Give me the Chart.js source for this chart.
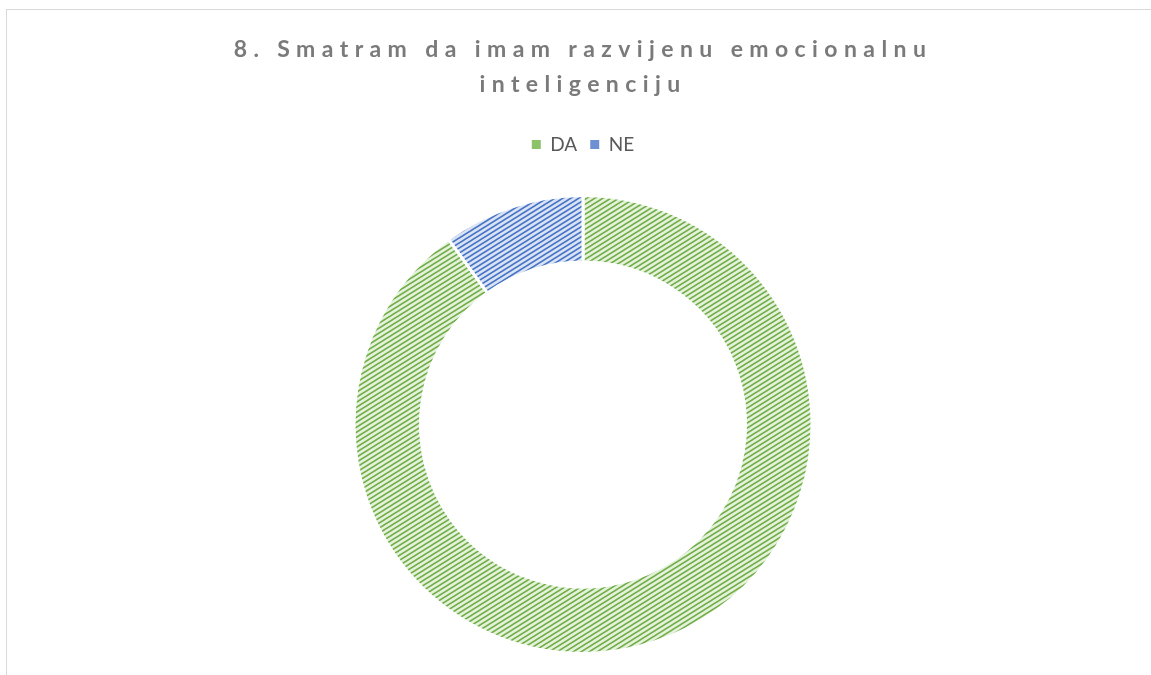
<!DOCTYPE html>
<html>
<head>
<meta charset="utf-8">
<script src="https://cdn.jsdelivr.net/npm/chart.js@4.4.1/dist/chart.umd.min.js"></script>
<style>
    html, body { margin: 0; padding: 0; background: #fff; overflow: hidden; }
    #frame {
        position: absolute; left: 6px; top: 9px; width: 1200px; height: 720px;
        border-left: 1.5px solid #d9d9d9; border-top: 1.5px solid #d9d9d9;
    }
    #wrap { position: absolute; left: 0; top: 0; width: 1151px; height: 675px; }
</style>
</head>
<body>
<div id="frame"></div>
<div id="wrap"><canvas id="donutChart"></canvas></div>
<script>
// Chart data
const titleLines = ['8. Smatram da imam razvijenu emocionalnu', 'inteligenciju'];
const categories = ['DA', 'NE'];
const values = [90, 10];
const lineColors = ['#70AD47', '#4472C4'];
const bgColors = ['#e4f1db', '#d9e3f4'];
const legendColors = ['#8cc36a', '#6e90d2'];

// Diagonal stripe pattern, like the Excel "upward diagonal" fill
function makePattern(line, bg) {
    const tile = document.createElement('canvas');
    tile.width = 8;
    tile.height = 5;
    const c = tile.getContext('2d');
    c.fillStyle = bg;
    c.fillRect(0, 0, 8, 5);
    c.strokeStyle = line;
    c.lineWidth = 1.5;
    c.beginPath();
    c.moveTo(-8, 10); c.lineTo(16, -5);
    c.moveTo(-8, 5); c.lineTo(8, -5);
    c.moveTo(0, 10); c.lineTo(16, 0);
    c.stroke();
    return c.createPattern(tile, 'repeat');
}

// Draw the title with letter spacing (Chart.js title can't do that)
const spacedTitle = {
    id: 'spacedTitle',
    afterDraw(chart) {
        const ctx = chart.ctx;
        ctx.save();
        ctx.font = 'bold 23px Lato, "Open Sans", sans-serif';
        ctx.fillStyle = '#7a7a7a';
        ctx.textAlign = 'center';
        ctx.textBaseline = 'alphabetic';
        if ('letterSpacing' in ctx) ctx.letterSpacing = '6.4px';
        ctx.fillText(titleLines[0], 583, 57);
        ctx.fillText(titleLines[1], 583, 92);
        ctx.restore();
    }
};

// Push the doughnut down below the legend
const legendGap = {
    id: 'legendGap',
    beforeInit(chart) {
        const fit = chart.legend.fit;
        chart.legend.fit = function () {
            fit.bind(chart.legend)();
            this.height += 30;
        };
    }
};

const ctx = document.getElementById('donutChart').getContext('2d');
const donutChart = new Chart(ctx, {
    type: 'doughnut',
    data: {
        labels: categories,
        datasets: [{
            data: values,
            backgroundColor: lineColors.map((c, i) => makePattern(c, bgColors[i])),
            borderColor: '#ffffff',
            borderWidth: 3
        }]
    },
    options: {
        responsive: true,
        maintainAspectRatio: false,
        animation: false,
        cutout: '71%',
        layout: {
            padding: { top: 122, bottom: 20, left: 15, right: 0 }
        },
        plugins: {
            title: { display: false },
            tooltip: { enabled: false },
            legend: {
                position: 'top',
                labels: {
                    boxWidth: 9,
                    boxHeight: 9,
                    padding: 13,
                    color: '#595959',
                    font: { size: 19, family: 'Lato, "Open Sans", sans-serif' },
                    generateLabels(chart) {
                        return categories.map((name, i) => ({
                            text: name,
                            fillStyle: legendColors[i],
                            strokeStyle: legendColors[i],
                            lineWidth: 0,
                            fontColor: '#595959',
                            index: i
                        }));
                    }
                }
            }
        }
    },
    plugins: [spacedTitle, legendGap]
});
</script>
</body>
</html>
